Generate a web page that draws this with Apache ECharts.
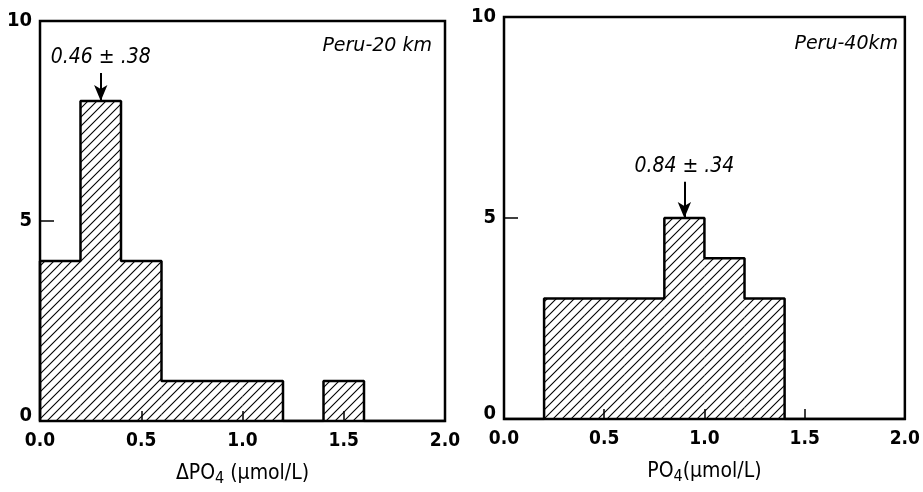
<!DOCTYPE html>
<html>
<head>
<meta charset="utf-8">
<script src="https://cdn.jsdelivr.net/npm/echarts@6/dist/echarts.min.js"></script>
<style>
  html, body { margin: 0; padding: 0; background: #fff; }
  #chart { width: 923px; height: 492px; }
</style>
</head>
<body>
<div id="chart"></div>
<script>
// bin edges (lower edge of each 0.2 wide bin) and counts per panel
var binStarts = [0.0, 0.2, 0.4, 0.6, 0.8, 1.0, 1.2, 1.4, 1.6, 1.8];
var binWidth = 0.2;
var counts20 = [4, 8, 4, 1, 1, 1, 0, 1, 0, 0];
var counts40 = [0, 3, 3, 3, 5, 4, 3, 0, 0, 0];
var xTicks = [0.0, 0.5, 1.0, 1.5, 2.0];
var yTicks = [0, 5, 10];
var titles = ['Peru-20 km', 'Peru-40km'];
var means = ['0.46 ± .38', '0.84 ± .34'];
var arrowAt = [[0.3, 8.7, 8.0], [0.9, 5.9, 5.0]];

var FONT = '"DejaVu Sans Condensed", "DejaVu Sans", sans-serif';

// diagonal hatch tile
function hatch() {
  var s = 9;
  var c = document.createElement('canvas');
  c.width = s; c.height = s;
  var g = c.getContext('2d');
  g.strokeStyle = '#000';
  g.lineWidth = 1.1;
  g.beginPath();
  g.moveTo(-1, s + 1); g.lineTo(s + 1, -1);
  g.moveTo(-2, 2); g.lineTo(2, -2);
  g.moveTo(s - 2, s + 2); g.lineTo(s + 2, s - 2);
  g.stroke();
  return c;
}
var pattern = { image: hatch(), repeat: 'repeat' };

function binData(counts) {
  return binStarts.map(function (x, i) { return [x, x + binWidth, counts[i]]; });
}
function outline(counts) {
  var pts = [[binStarts[0], 0]];
  binStarts.forEach(function (x, i) { pts.push([x, counts[i]]); });
  pts.push([binStarts[binStarts.length - 1] + binWidth, 0]);
  return pts;
}

var myChart = echarts.init(document.getElementById('chart'));
var grids = [
  { left: 40, top: 21, width: 405, height: 401 },
  { left: 504, top: 17, width: 403, height: 402 }
];
var names = [
  '{n|ΔPO}{s|4}{n| (μmol/L)}',
  '{n|PO}{s|4}{n|(μmol/L)}'
];

var xAxes = [], yAxes = [], series = [];
[counts20, counts40].forEach(function (counts, k) {
  xAxes.push({
    type: 'value', gridIndex: k, min: 0, max: 2, interval: 0.5,
    name: names[k], nameLocation: 'middle', nameGap: 40,
    nameTextStyle: {
      rich: {
        n: { fontFamily: FONT, fontSize: 21, color: '#000' },
        s: { fontFamily: FONT, fontSize: 16, color: '#000', padding: [10, 0, 0, 0] }
      }
    },
    axisLine: { show: false },
    axisTick: { show: true, inside: true, length: 10, lineStyle: { color: '#000', width: 1.5 } },
    splitLine: { show: false },
    axisLabel: {
      color: '#000', fontFamily: FONT, fontWeight: 'bold', fontSize: 19, margin: 11,
      formatter: function (v) { return v.toFixed(1); }
    }
  });
  yAxes.push({
    type: 'value', gridIndex: k, min: 0, max: 10, interval: 5,
    axisLine: { show: false },
    axisTick: { show: true, inside: true, length: 14, lineStyle: { color: '#000', width: 1.5 } },
    splitLine: { show: false },
    axisLabel: {
      color: '#000', fontFamily: FONT, fontWeight: 'bold', fontSize: 20, margin: 8,
      formatter: function (v) { return v === 0 ? '{z|0}' : String(v); },
      rich: { z: { fontFamily: FONT, fontWeight: 'bold', fontSize: 20, color: '#000', padding: [0, 0, 10, 0] } }
    }
  });
  series.push({
    type: 'custom', xAxisIndex: k, yAxisIndex: k,
    data: binData(counts),
    renderItem: function (params, api) {
      var p0 = api.coord([api.value(0), 0]);
      var p1 = api.coord([api.value(1), api.value(2)]);
      return {
        type: 'rect',
        shape: { x: p0[0], y: p1[1], width: p1[0] - p0[0], height: p0[1] - p1[1] },
        style: { fill: pattern }
      };
    },
    silent: true
  });
  series.push({
    type: 'line', xAxisIndex: k, yAxisIndex: k, step: 'end',
    data: outline(counts), symbol: 'none', silent: true,
    lineStyle: { color: '#000', width: 2.5 },
    markLine: {
      silent: true, symbol: ['none', 'arrow'], symbolSize: [10, 16],
      lineStyle: { color: '#000', width: 2, type: 'solid' },
      label: {
        show: true, position: 'start', distance: 5, formatter: means[k],
        fontFamily: FONT, fontStyle: 'italic', fontSize: 21, color: '#000'
      },
      data: [[{ coord: [arrowAt[k][0], arrowAt[k][1]] }, { coord: [arrowAt[k][0], arrowAt[k][2]] }]]
    }
  });
});

var titleStyle = { fontFamily: '"DejaVu Sans", sans-serif', fontStyle: 'italic', fontWeight: 'normal', fontSize: 19, color: '#000' };
var option = {
  backgroundColor: '#fff',
  animation: false,
  grid: grids.map(function (g) {
    return Object.assign({ show: true, borderColor: '#000', borderWidth: 2.5, backgroundColor: 'transparent' }, g);
  }),
  title: [
    { text: titles[0], right: 923 - 437, top: 32, textStyle: titleStyle },
    { text: titles[1], right: 923 - 903, top: 30, textStyle: titleStyle }
  ],
  xAxis: xAxes,
  yAxis: yAxes,
  series: series
};
myChart.setOption(option);
</script>
</body>
</html>
